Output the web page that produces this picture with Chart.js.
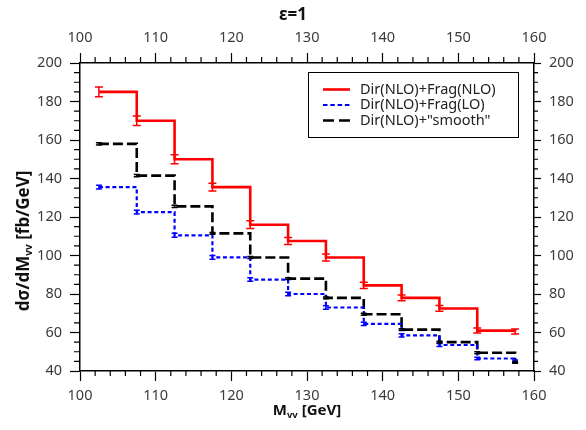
<!DOCTYPE html>
<html>
<head>
<meta charset="utf-8">
<script src="https://cdn.jsdelivr.net/npm/chart.js@4.4.0/dist/chart.umd.min.js"></script>
<style>
html,body{margin:0;padding:0;background:#fff;}
</style>
</head>
<body>
<canvas id="myChart" width="586" height="430"></canvas>
<script>
'use strict';

// bin positions (GeV) - each value is drawn as a step starting at that point
let binX=[102.5,107.5,112.5,117.5,122.5,127.5,132.5,137.5,142.5,147.5,152.5,157.5];

let fragNlo=[185,170,150,135.5,116,107.5,99,84.5,78,72.5,61,60.5];
let fragNloErr=[2.5,2.5,2.4,2,2,1.8,1.8,1.6,1.5,1.5,1.3,1.3];

let fragLo=[135.5,122.5,110.5,99,87.5,80,73,64.5,58.5,53.5,46.5,45];
let fragLoErr=[1,1,1,1,0.9,0.9,0.9,0.8,0.8,0.8,0.7,0.7];

let smooth=[158,141.5,125.5,111.5,99,88,78,69.5,61.5,55,49.5,44.5];
let smoothErr=[0.6,0.6,0.6,0.5,0.5,0.5,0.5,0.5,0.5,0.5,0.5,0.5];

let labels=['Dir(NLO)+Frag(NLO)','Dir(NLO)+Frag(LO)','Dir(NLO)+"smooth"'];

let xMin=100, xMax=160, xStep=10, xMinor=2;
let yMin=40, yMax=200, yStep=20, yMinor=5;

let font='Noto Sans';

function toPoints(vals){
    return binX.map(function(x,i){ return {x:x, y:vals[i]}; });
}

let series=[
    {label:labels[0], vals:fragNlo, err:fragNloErr, color:'#ff0000', width:2.6, dash:[], cap:4},
    {label:labels[1], vals:fragLo, err:fragLoErr, color:'#0000ff', width:2.2, dash:[4,2.7], cap:3},
    {label:labels[2], vals:smooth, err:smoothErr, color:'#000000', width:2.6, dash:[10,4], cap:3}
];

// text with a subscript piece, centred on (0,0)
function subText(ctx, parts, size, subSize){
    let w=0;
    parts.forEach(function(p){
        ctx.font='bold '+(p.sub?subSize:size)+'px "'+font+'"';
        p.w=ctx.measureText(p.t).width;
        w+=p.w;
    });
    let x=-w/2;
    ctx.textAlign='left';
    ctx.textBaseline='middle';
    parts.forEach(function(p){
        ctx.font='bold '+(p.sub?subSize:size)+'px "'+font+'"';
        ctx.fillText(p.t,x,p.sub?size*0.3:0);
        x+=p.w;
    });
}

let extras={
    id:'extras',
    afterDatasetsDraw(chart){
        let ctx=chart.ctx;
        let xs=chart.scales.x, ys=chart.scales.y;
        ctx.save();
        series.forEach(function(s){
            ctx.strokeStyle=s.color;
            ctx.lineWidth=1.5;
            ctx.setLineDash([]);
            for (let i=0;i<binX.length;i++){
                let px=xs.getPixelForValue(binX[i]);
                let lo=ys.getPixelForValue(s.vals[i]-s.err[i]);
                let hi=ys.getPixelForValue(s.vals[i]+s.err[i]);
                ctx.beginPath();
                ctx.moveTo(px,lo); ctx.lineTo(px,hi);
                ctx.moveTo(px-s.cap,lo); ctx.lineTo(px+s.cap,lo);
                ctx.moveTo(px-s.cap,hi); ctx.lineTo(px+s.cap,hi);
                ctx.stroke();
            }
        });
        ctx.restore();
    },
    afterDraw(chart){
        let ctx=chart.ctx;
        let a=chart.chartArea;
        ctx.save();
        ctx.strokeStyle='#000';
        ctx.lineWidth=1.2;
        ctx.setLineDash([]);
        // minor ticks
        ctx.beginPath();
        for (let v=xMin;v<=xMax;v+=xMinor){
            if (v%xStep===0) continue;
            let px=chart.scales.x.getPixelForValue(v);
            ctx.moveTo(px,a.bottom); ctx.lineTo(px,a.bottom+5);
            ctx.moveTo(px,a.top); ctx.lineTo(px,a.top-6);
        }
        for (let v=yMin;v<=yMax;v+=yMinor){
            if (v%yStep===0) continue;
            let py=chart.scales.y.getPixelForValue(v);
            ctx.moveTo(a.left,py); ctx.lineTo(a.left-6,py);
            ctx.moveTo(a.right,py); ctx.lineTo(a.right+4,py);
        }
        ctx.stroke();

        ctx.fillStyle='#111';
        // y axis title
        ctx.save();
        ctx.translate(24,241);
        ctx.rotate(-Math.PI/2);
        subText(ctx,[{t:'dσ/dM'},{t:'vv',sub:true},{t:' [fb/GeV]'}],17,10);
        ctx.restore();
        // x axis title
        ctx.save();
        ctx.translate((a.left+a.right)/2,411);
        subText(ctx,[{t:'M'},{t:'vv',sub:true},{t:' [GeV]'}],15,9.5);
        ctx.restore();

        // legend box
        let bx=a.right-226, by=a.top+9, bw=210, bh=65;
        ctx.fillStyle='#fff';
        ctx.fillRect(bx,by,bw,bh);
        ctx.lineWidth=1;
        ctx.strokeRect(bx+0.5,by+0.5,bw,bh);
        ctx.font='14.5px "'+font+'"';
        ctx.textAlign='left';
        ctx.textBaseline='middle';
        series.forEach(function(s,i){
            let ry=by+17.5+i*15.5;
            ctx.strokeStyle=s.color;
            ctx.lineWidth=s.width;
            ctx.setLineDash(s.dash.length? (i===2?[11,5]:[4.5,2.8]) : []);
            ctx.beginPath();
            ctx.moveTo(bx+15,ry); ctx.lineTo(bx+42,ry);
            ctx.stroke();
            ctx.fillStyle='#222';
            ctx.fillText(s.label,bx+52,ry);
        });
        ctx.restore();
    }
};

let tickFont={family:font, size:14.5};
let tickColor='#3a3a3a';

function axisGrid(len){
    return {drawOnChartArea:false, drawTicks:true, tickLength:len, color:'#000', tickWidth:1.2};
}
let axisBorder={display:true, color:'#000', width:1.5};

let ctx=document.getElementById('myChart').getContext('2d');
let myChart=new Chart(ctx,{
    type:'line',
    data:{
        datasets: series.map(function(s){
            return {
                label:s.label,
                data:toPoints(s.vals),
                borderColor:s.color,
                backgroundColor:s.color,
                borderWidth:s.width,
                borderDash:s.dash,
                stepped:true,
                pointRadius:0,
                fill:false
            };
        })
    },
    options:{
        responsive:false,
        animation:false,
        devicePixelRatio:1,
        layout:{padding:0},
        plugins:{
            legend:{display:false},
            tooltip:{enabled:false},
            title:{
                display:true,
                text:'ε=1',
                font:{family:font, size:17, weight:'bold'},
                color:'#111',
                padding:{top:5, bottom:0}
            }
        },
        scales:{
            x:{
                type:'linear', position:'bottom', min:xMin, max:xMax,
                ticks:{stepSize:xStep, font:tickFont, color:tickColor, padding:6, maxRotation:0},
                grid:axisGrid(10), border:axisBorder,
                afterFit(scale){ scale.height=59; }
            },
            x2:{
                type:'linear', position:'top', min:xMin, max:xMax,
                ticks:{stepSize:xStep, font:tickFont, color:tickColor, padding:6, maxRotation:0},
                grid:axisGrid(10), border:axisBorder,
                afterFit(scale){ scale.height=63-25.4; }
            },
            y:{
                type:'linear', position:'left', min:yMin, max:yMax,
                ticks:{stepSize:yStep, font:tickFont, color:tickColor, padding:8},
                grid:axisGrid(10), border:axisBorder,
                afterFit(scale){ scale.width=80; }
            },
            y2:{
                type:'linear', position:'right', min:yMin, max:yMax,
                ticks:{stepSize:yStep, font:tickFont, color:tickColor, padding:8},
                grid:axisGrid(7), border:axisBorder,
                afterFit(scale){ scale.width=52; }
            }
        }
    },
    plugins:[extras]
});
</script>
</body>
</html>
